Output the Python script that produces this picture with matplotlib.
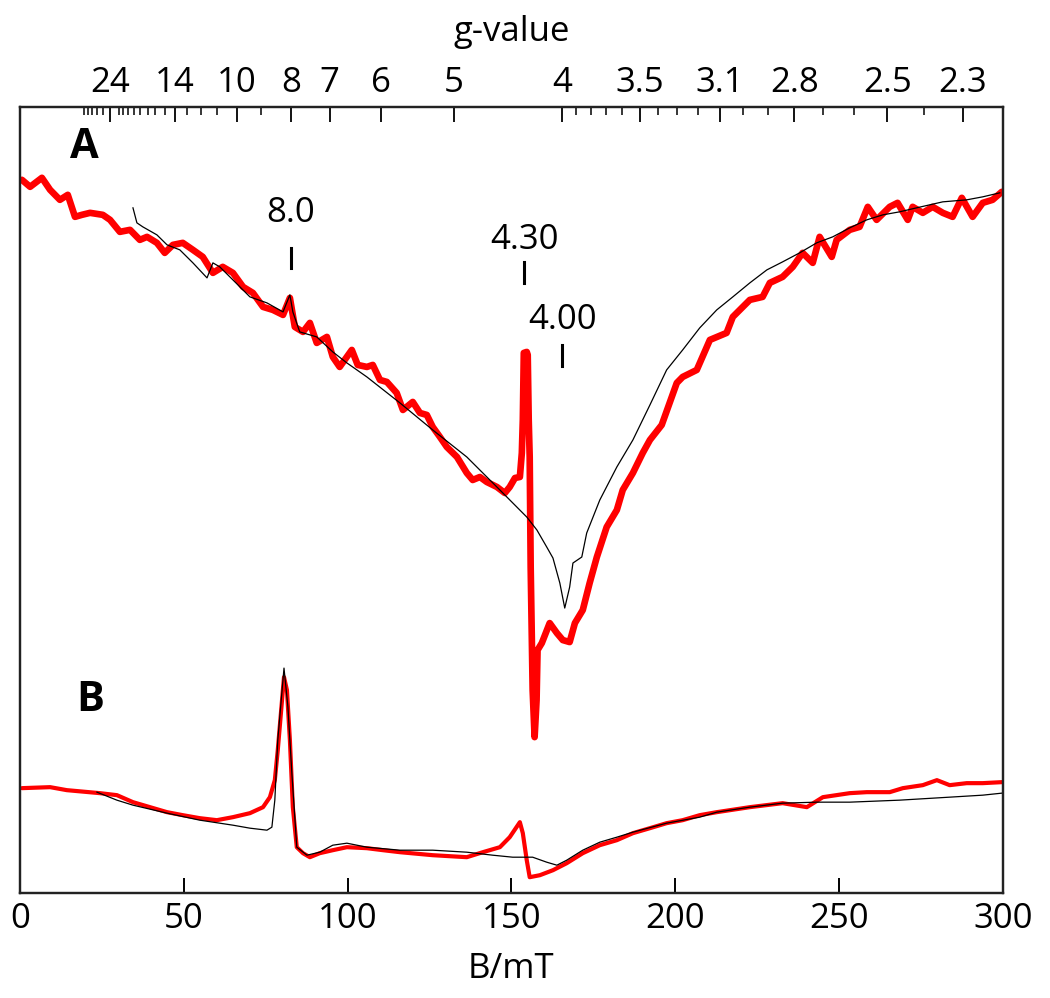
import numpy as np
import matplotlib
matplotlib.use("Agg")
import matplotlib.pyplot as plt

plt.rcParams['font.family'] = ['Open Sans', 'DejaVu Sans']

# g * B (mT) at the spectrometer frequency
K = 662.0

# spectrum A, red (measured)
b_a_red = [0.6, 3.1, 6.7, 9.2, 12.2, 14.6, 16.8, 18.9, 21.4, 25.3, 27.5, 30.5, 33.6, 36.6, 38.8,
           41.8, 44.2, 46.7, 49.7, 52.8, 55.8, 58.9, 61.9, 65.0, 68.1, 71.1, 74.2, 77.2, 80.3,
           82.4, 83.9, 86.4, 88.5, 90.6, 93.7, 95.5, 97.6, 101.3, 103.1, 105.9, 107.7, 109.9,
           112.0, 115.0, 116.9, 119.9, 122.1, 124.2, 126.0, 128.2, 130.3, 133.4, 136.4, 138.2,
           140.4, 142.5, 145.6, 148.0, 149.5, 151.1, 152.6, 153.2, 153.5, 153.8, 154.7, 155.0,
           155.3, 155.6, 155.9, 156.5, 157.1, 157.7, 158.0, 159.3, 161.7, 163.9, 165.7, 167.8,
           169.4, 171.8, 173.9, 176.1, 179.1, 182.2, 184.0, 187.1, 190.1, 192.3, 195.9, 200.5,
           202.3, 206.6, 210.6, 215.7, 217.6, 222.8, 226.7, 228.9, 232.8, 235.9, 238.9, 242.0,
           244.1, 247.8, 249.3, 253.3, 256.3, 258.8, 261.5, 265.5, 267.9, 271.0, 272.5, 275.6,
           278.6, 281.7, 284.7, 287.5, 290.8, 293.9, 296.9, 299.7]
i_a_red = [713, 706, 715, 703, 693, 698, 676, 678, 680, 678, 673, 661, 663, 653, 656,
           650, 640, 648, 650, 643, 636, 620, 626, 620, 606, 600, 586, 583, 578,
           595, 566, 561, 570, 550, 556, 536, 526, 543, 528, 526, 528, 513,
           511, 500, 483, 491, 480, 478, 466, 456, 446, 436, 420, 413,
           416, 411, 406, 400, 406, 415, 416, 440, 473, 540, 541, 538,
           473, 436, 326, 203, 156, 193, 243, 250, 270, 260, 253, 251,
           270, 283, 310, 336, 366, 383, 403, 420, 440, 453, 468, 510,
           516, 523, 553, 560, 576, 593, 596, 610, 616, 626, 640, 630,
           656, 636, 653, 663, 666, 686, 673, 686, 690, 673, 686, 680,
           686, 680, 676, 695, 676, 690, 693, 701]

# spectrum A, black (simulation)
b_a_sim = [34.5, 35.7, 37.5, 41.8, 44.9, 48.8, 52.8, 57.1, 58.9, 61.0, 65.0, 70.2, 75.4, 80.3,
           82.4, 83.3, 85.4, 90.6, 95.5, 99.8, 105.9, 116.0, 126.0, 136.4, 146.5, 154.7, 157.8,
           160.8, 162.7, 164.8, 166.3, 167.8, 168.8, 171.5, 173.0, 177.0, 182.2, 187.1, 192.3,
           197.4, 202.3, 207.5, 212.7, 217.6, 222.8, 228.0, 232.8, 238.0, 243.2, 248.1, 253.3,
           258.5, 263.4, 268.5, 273.7, 281.7, 289.0, 293.9, 299.1]
i_a_sim = [685, 670, 666, 658, 648, 643, 630, 615, 630, 626, 613, 596, 590, 581,
           598, 581, 561, 556, 541, 530, 516, 490, 463, 436, 403, 376, 363,
           346, 335, 310, 285, 306, 330, 336, 360, 393, 426, 453, 488,
           523, 543, 565, 583, 596, 610, 623, 631, 640, 650, 656, 665,
           673, 678, 681, 685, 691, 693, 696, 700]

# spectrum B, red (measured)
b_b_red = [0.6, 9.2, 14.3, 24.4, 29.6, 34.5, 39.7, 44.9, 49.7, 54.9, 60.1, 65.0, 70.2, 74.2,
           76.3, 77.8, 78.7, 80.0, 80.6, 81.5, 82.4, 83.3, 84.5, 86.4, 88.5, 91.5, 95.5, 99.8,
           105.9, 110.8, 116.0, 126.0, 136.4, 141.3, 146.5, 149.5, 152.6, 153.5, 154.7, 155.6,
           158.7, 162.7, 166.9, 171.8, 177.0, 182.2, 187.1, 192.3, 197.4, 202.3, 207.5, 212.7,
           222.8, 232.8, 240.2, 245.1, 253.3, 258.5, 265.5, 269.5, 275.6, 279.9, 283.8, 289.0,
           293.9, 299.7]
i_b_red = [105, 106, 103, 100, 98, 91, 86, 81, 78, 75, 73, 76, 80, 86,
           96, 113, 143, 193, 216, 203, 153, 86, 46, 40, 36, 40, 43, 46,
           45, 43, 41, 38, 36, 41, 46, 56, 71, 60, 33, 16,
           18, 23, 30, 40, 48, 53, 60, 65, 70, 73, 78, 81,
           86, 90, 86, 96, 100, 101, 101, 105, 108, 113, 108, 110,
           110, 111]

# spectrum B, black (simulation)
b_b_sim = [23.5, 29.6, 34.5, 44.9, 54.9, 65.0, 70.2, 75.4, 76.9, 77.8, 78.7, 80.6, 81.8, 83.0,
           84.5, 87.6, 91.5, 95.5, 99.8, 105.9, 116.0, 126.0, 136.4, 144.3, 150.4, 156.5, 160.8,
           163.9, 166.9, 171.8, 177.0, 182.2, 187.1, 197.4, 207.5, 212.7, 222.8, 232.8, 243.2,
           253.3, 268.5, 283.8, 293.9, 299.7]
i_b_sim = [101, 93, 88, 80, 73, 68, 65, 63, 66, 93, 153, 225, 186, 120,
           46, 38, 41, 48, 50, 46, 43, 43, 41, 38, 36, 36, 31,
           28, 33, 43, 51, 56, 61, 70, 76, 81, 86, 90, 91,
           91, 93, 96, 98, 100]

# top g-value scale
g_major = [24, 14, 10, 8, 7, 6, 5, 4, 3.5, 3.1, 2.8, 2.5, 2.3]
g_major_labels = ["24", "14", "10", "8", "7", "6", "5", "4", "3.5", "3.1", "2.8", "2.5", "2.3"]
g_minor = [34, 32, 30, 28, 26, 22, 21, 20, 19, 18, 17, 16, 15, 13, 12, 11, 9,
           3.9, 3.8, 3.7, 3.6, 3.4, 3.3, 3.2, 3.0, 2.9, 2.7, 2.6, 2.4]

# marked g-values in spectrum A
mark_g = [8.0, 4.30, 4.00]
mark_text = ["8.0", "4.30", "4.00"]

fig = plt.figure(figsize=(10.5, 9.98), dpi=100)
ax = fig.add_axes([0.019, 0.105, 0.936, 0.788])

ax.plot(b_a_red, i_a_red, color="#ff0000", lw=4.8, solid_joinstyle="round",
        solid_capstyle="round", zorder=2)
ax.plot(b_a_sim, i_a_sim, color="black", lw=0.9, zorder=3)
ax.plot(b_b_red, i_b_red, color="#ff0000", lw=3.0, solid_joinstyle="round",
        solid_capstyle="round", zorder=2)
ax.plot(b_b_sim, i_b_sim, color="black", lw=0.9, zorder=3)

# g markers with labels
text_y = [680, 653, 573]
bar_y = [(625, 645), (610, 631), (527, 548)]
for g, t, ty, (y0, y1) in zip(mark_g, mark_text, text_y, bar_y):
    b = K / g
    ax.plot([b, b], [y0, y1], color="black", lw=2.2, zorder=4)
    ax.text(b, ty, t, ha="center", va="center", fontsize=25)

ax.text(19.8, 745, "A", fontsize=30, fontweight="bold", ha="center", va="center")
ax.text(21.4, 193, "B", fontsize=30, fontweight="bold", ha="center", va="center")

ax.set_xlim(0, 300)
ax.set_ylim(0, 786)
ax.set_yticks([])
ax.set_xticks([0, 50, 100, 150, 200, 250, 300])
ax.tick_params(axis="x", direction="in", length=11, width=1.4, labelsize=25, pad=6)
ax.set_xlabel("B/mT", fontsize=25, labelpad=12)
for s in ax.spines.values():
    s.set_linewidth(1.6)
    s.set_color("#222222")

ax2 = ax.twiny()
ax2.set_xlim(ax.get_xlim())
ax2.set_xticks([K / g for g in g_major])
ax2.set_xticklabels(g_major_labels)
ax2.set_xticks([K / g for g in g_minor], minor=True)
ax2.tick_params(axis="x", which="major", direction="in", length=11, width=1.3, labelsize=25, pad=5)
ax2.tick_params(axis="x", which="minor", direction="in", length=5.5, width=1.1)
ax2.set_xlabel("g-value", fontsize=25, labelpad=18)
for s in ax2.spines.values():
    s.set_linewidth(1.6)
    s.set_color("#222222")

fig.savefig("out.png", dpi=100)
